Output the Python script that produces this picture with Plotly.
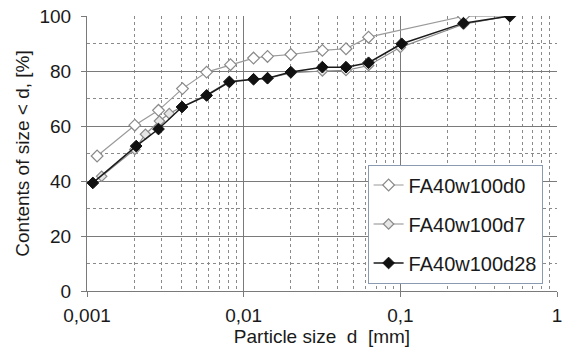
import plotly.graph_objects as go

# Particle size distributions (cumulative % passing) for three curing ages
d0_size = [0.00116, 0.00202, 0.00286, 0.00407, 0.0058, 0.00824, 0.01156, 0.0142, 0.02,
           0.0318, 0.045, 0.0627, 0.253, 0.5]
d0_pct = [49.1, 60.3, 65.7, 73.6, 79.6, 82.3, 84.7, 85.3, 86.0,
          87.5, 88.1, 92.3, 99.9, 100]

d7_size = [0.00124, 0.00202, 0.00236, 0.0029, 0.00335, 0.00404, 0.0058, 0.0081, 0.01156,
           0.0142, 0.02, 0.0318, 0.045, 0.0627, 0.1, 0.253, 0.5]
d7_pct = [41.7, 51.5, 57.0, 61.8, 64.5, 67.0, 71.3, 76.3, 77.0,
          77.3, 79.3, 80.0, 80.2, 82.0, 88.6, 97.0, 100]

d28_size = [0.00109, 0.00206, 0.00286, 0.00404, 0.0058, 0.0081, 0.01156, 0.0142, 0.02,
            0.0318, 0.045, 0.0627, 0.102, 0.253, 0.5]
d28_pct = [39.3, 52.7, 58.9, 66.9, 71.1, 76.0, 77.0, 77.4, 79.6,
           81.4, 81.4, 83.0, 89.9, 97.4, 100]

x_ticks = [0.001, 0.01, 0.1, 1]
x_tick_text = ["0,001", "0,01", "0,1", "1"]
y_ticks = [0, 20, 40, 60, 80, 100]

FONT = "Liberation Sans, Arial, sans-serif"

fig = go.Figure()
fig.add_trace(go.Scatter(
    x=d0_size, y=d0_pct, mode="lines+markers", name="FA40w100d0",
    legendgroup="a",
    line=dict(color="#9a9a9a", width=1.2),
    marker=dict(symbol="diamond", size=9, color="white",
                line=dict(color="#8a8a8a", width=1.2)),
))
fig.add_trace(go.Scatter(
    x=d7_size, y=d7_pct, mode="lines+markers", name="FA40w100d7",
    legendgroup="b",
    line=dict(color="#8c8c8c", width=1.2),
    marker=dict(symbol="diamond", size=8, color="#e6e6e6",
                line=dict(color="#8a8a8a", width=1.2)),
))
fig.add_trace(go.Scatter(
    x=d28_size, y=d28_pct, mode="lines+markers", name="FA40w100d28",
    legendgroup="c",
    line=dict(color="#1a1a1a", width=1.5),
    marker=dict(symbol="diamond", size=9, color="#111111",
                line=dict(color="#111111", width=1)),
))

fig.update_layout(
    width=568, height=352,
    margin=dict(l=87, r=6, t=16, b=61),
    paper_bgcolor="white", plot_bgcolor="white",
    font=dict(family=FONT, size=19, color="#1a1a1a"),
    showlegend=True,
    legend=dict(
        x=0.597, y=0.46, xanchor="left", yanchor="top",
        bgcolor="white", bordercolor="#8a9ab0", borderwidth=1,
        font=dict(family=FONT, size=20, color="#1a1a1a"),
        traceorder="grouped", tracegroupgap=10,
        itemwidth=30,
    ),
    xaxis=dict(
        type="log", range=[-3, 0],
        tickvals=x_ticks, ticktext=x_tick_text,
        showgrid=True, gridcolor="#7a7a7a", gridwidth=1,
        showline=True, linecolor="#7a7a7a", linewidth=1,
        ticks="outside", ticklen=5, tickcolor="#7a7a7a",
        tickfont=dict(family=FONT, size=19),
        ticklabelstandoff=2,
        minor=dict(dtick="D1", showgrid=True, gridcolor="#8a8a8a",
                   griddash="dot", gridwidth=1),
        zeroline=False,
        title=dict(text="Particle size  d  [mm]", standoff=0,
                   font=dict(family=FONT, size=19)),
        mirror=False,
    ),
    yaxis=dict(
        range=[0, 100], tickvals=y_ticks,
        showgrid=True, gridcolor="#7a7a7a", gridwidth=1,
        showline=True, linecolor="#7a7a7a", linewidth=1,
        ticks="outside", ticklen=5, tickcolor="#7a7a7a",
        tickfont=dict(family=FONT, size=19),
        ticklabelstandoff=6,
        minor=dict(dtick=10, showgrid=True, gridcolor="#8a8a8a",
                   griddash="dot", gridwidth=1),
        zeroline=False,
        title=dict(text="Contents of size < d, [%]", standoff=4,
                   font=dict(family=FONT, size=19)),
    ),
)

fig.write_html("out.html")
